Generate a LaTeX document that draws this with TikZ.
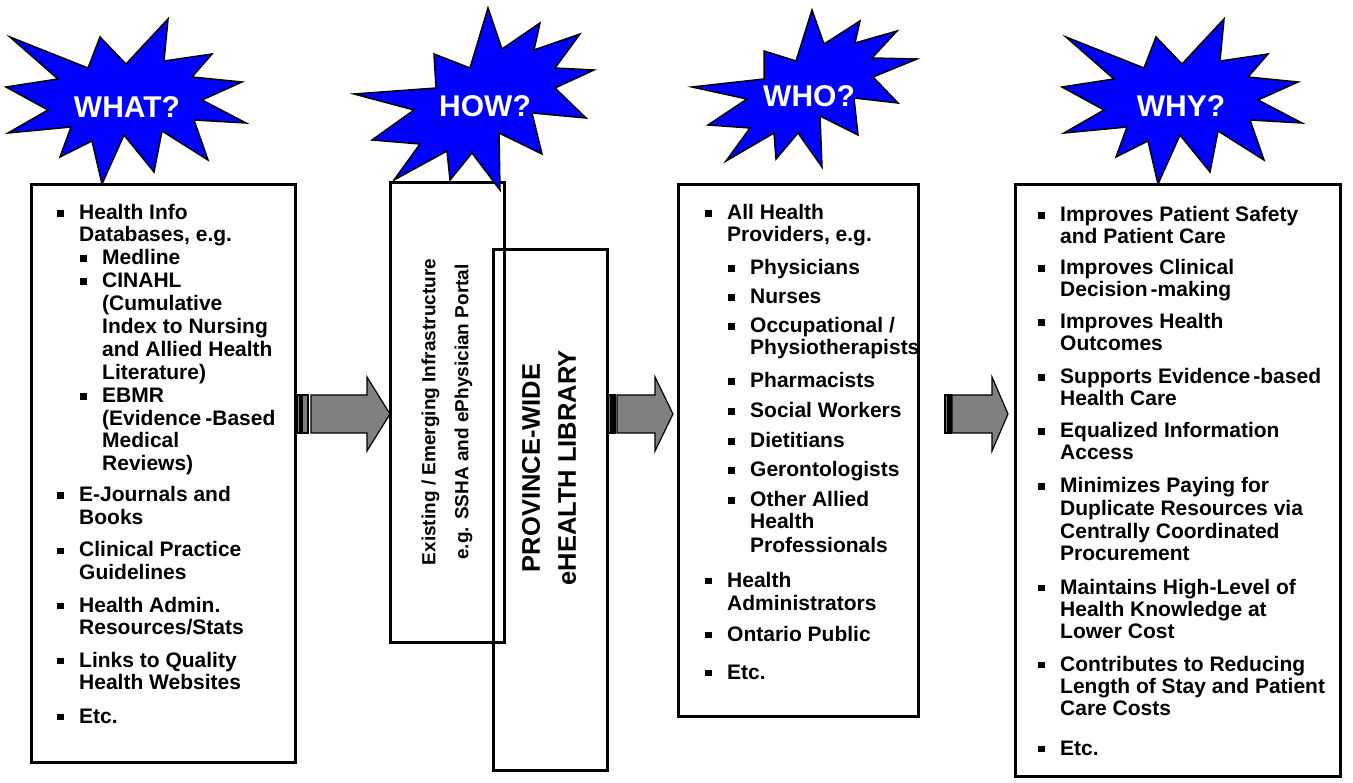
\documentclass[tikz,border=0pt]{standalone}
\usepackage{fontspec}
\setmainfont{Liberation Sans}
\definecolor{arrowgray}{HTML}{808080}
\definecolor{burstblue}{HTML}{0000FF}
\tikzset{
  box/.style={draw=black, line width=3pt, fill=none, inner sep=0pt, outer sep=0pt, anchor=north west},
  burst/.style={draw=black, line width=1.5pt, fill=burstblue, line join=miter},
  bursttext/.style={text=white, font=\fontsize{30}{32}\selectfont\bfseries, inner sep=0pt},
  txt/.style={anchor=base west, inner sep=0pt, font=\fontsize{21}{22.8}\selectfont\bfseries},
  blockarrow/.style={draw=black, line width=1.2pt, fill=arrowgray, line join=miter},
  bulletsq/.style={fill=black},
}
\newcommand\Bu[2]{\fill[bulletsq] ({#1-3},{#2-9.5}) rectangle ++(6.5,6.5);}
\newcommand\Ln[4]{\node[txt] (#1) at (#2,#3) {#4};}
\newcommand\BLn[4]{\Bu{#2-19}{#3}\Ln{#1}{#2}{#3}{#4}}
\def\burstA{(10,37) -- (88,68) -- (100,37) -- (126,64) -- (168,19) -- (164,61) -- (212,54) -- (192,77) -- (242,82) -- (202,100) -- (246,123) -- (194,120) -- (208,160) -- (162,131) -- (154,172) -- (124,135) -- (102,184) -- (92,141) -- (60,157) -- (71,127) -- (8,133) -- (48,110) -- (6,87) -- (58,79) -- cycle}
\begin{document}
\begin{tikzpicture}[x=1pt,y=-1pt]
\useasboundingbox (0,0) rectangle (1353,783);
% boxes
\node[box, minimum width=264pt, minimum height=577pt] (whatbox) at (31,185) {};
\node[box, minimum width=114pt, minimum height=459pt] (infrabox) at (390,183) {};
\node[box, minimum width=114pt, minimum height=520pt] (libbox) at (493,250) {};
\node[box, minimum width=240pt, minimum height=531pt] (whobox) at (678,185) {};
\node[box, minimum width=325pt, minimum height=591pt] (whybox) at (1015,185) {};
% bursts
\draw[burst] \burstA;
\draw[burst] (354,94) -- (436,88) -- (434,54) -- (470,68) -- (488,8) -- (502,49) -- (540,23) -- (534,50) -- (580,34) -- (555,68) -- (594,70) -- (555,88) -- (586,118) -- (532,113) -- (542,154) -- (499,133) -- (500,190) -- (472,153) -- (450,180) -- (447,151) -- (394,180) -- (420,144) -- (372,140) -- (414,110) -- cycle;
\draw[burst] (692,87) -- (764,79) -- (764,51) -- (796,61) -- (812,10) -- (824,44) -- (860,21) -- (855,43) -- (897,31) -- (872,58) -- (917,59) -- (873,77) -- (898,103) -- (854,98) -- (858,135) -- (820,116) -- (822,167) -- (798,133) -- (776,159) -- (774,133) -- (726,161) -- (750,128) -- (708,125) -- (747,99) -- cycle;
\draw[burst, shift={(1056,0)}] \burstA;
\node[bursttext] (what) at (127,107) {WHAT?};
\node[bursttext] (how) at (485,106) {HOW?};
\node[bursttext] (who) at (809,96) {WHO?};
\node[bursttext] (why) at (1181,106) {WHY?};
% block arrows
\draw[blockarrow] (297,395) rectangle (300,433);
\draw[blockarrow] (302,395) rectangle (308,433);
\draw[blockarrow] (311,395) -- (367,395) -- (367,377) -- (390,414) -- (367,451) -- (367,433) -- (311,433) -- cycle;
\draw[blockarrow] (608,395) rectangle (611,433);
\draw[blockarrow] (613,395) rectangle (615,433);
\draw[blockarrow] (617,395) -- (655,395) -- (655,377) -- (673,414) -- (655,451) -- (655,433) -- (617,433) -- cycle;
\draw[blockarrow] (945,395) rectangle (947.5,433);
\draw[blockarrow] (949,395) rectangle (951,433);
\draw[blockarrow] (952,395) -- (992,395) -- (992,377) -- (1008,414) -- (992,451) -- (992,433) -- (952,433) -- cycle;
% vertical texts
\node[rotate=90, align=center, inner sep=0pt, font=\fontsize{19}{33}\selectfont\bfseries] (infra) at (447,412) {Existing / Emerging Infrastructure\\e.g. SSHA and ePhysician Portal};
\node[rotate=90, align=center, inner sep=0pt, font=\fontsize{25.5}{36}\selectfont\bfseries] (lib) at (549,468) {PROVINCE-WIDE\\eHEALTH LIBRARY};
% WHAT list
\BLn{w1}{79}{220}{Health Info}
\Ln{w2}{79}{242}{Databases, e.g.}
\BLn{w3}{102}{265}{Medline}
\BLn{w4}{102}{288}{CINAHL}
\Ln{w5}{102}{311}{(Cumulative}
\Ln{w6}{102}{334}{Index to Nursing}
\Ln{w7}{102}{357}{and Allied Health}
\Ln{w8}{102}{380}{Literature)}
\BLn{w9}{102}{403}{EBMR}
\Ln{w10}{102}{426}{(Evidence\kern4pt-Based}
\Ln{w11}{102}{448}{Medical}
\Ln{w12}{102}{471}{Reviews)}
\BLn{w13}{79}{502}{E-Journals and}
\Ln{w14}{79}{525}{Books}
\BLn{w15}{79}{557}{Clinical Practice}
\Ln{w16}{79}{579}{Guidelines}
\BLn{w17}{79}{612}{Health Admin.}
\Ln{w18}{79}{634}{Resources/Stats}
\BLn{w19}{79}{667}{Links to Quality}
\Ln{w20}{79}{689}{Health Websites}
\BLn{w21}{79}{723}{Etc.}
% WHO list
\BLn{h1}{727}{220}{All Health}
\Ln{h2}{727}{242}{Providers, e.g.}
\BLn{h3}{750}{275}{Physicians}
\BLn{h4}{750}{304}{Nurses}
\BLn{h5}{750}{333}{Occupational /}
\Ln{h6}{750}{355}{Physiotherapists}
\BLn{h7}{750}{388}{Pharmacists}
\BLn{h8}{750}{418}{Social Workers}
\BLn{h9}{750}{448}{Dietitians}
\BLn{h10}{750}{477}{Gerontologists}
\BLn{h11}{750}{507}{Other Allied}
\Ln{h12}{750}{529}{Health}
\Ln{h13}{750}{552}{Professionals}
\BLn{h14}{727}{587}{Health}
\Ln{h15}{727}{610}{Administrators}
\BLn{h16}{727}{641}{Ontario Public}
\BLn{h17}{727}{679}{Etc.}
% WHY list
\BLn{y1}{1060}{222}{Improves Patient Safety}
\Ln{y2}{1060}{244}{and Patient Care}
\BLn{y3}{1060}{275}{Improves Clinical}
\Ln{y4}{1060}{297}{Decision\kern3pt-making}
\BLn{y5}{1060}{329}{Improves Health}
\Ln{y6}{1060}{351}{Outcomes}
\BLn{y7}{1060}{384}{Supports Evidence\kern3pt-based}
\Ln{y8}{1060}{406}{Health Care}
\BLn{y9}{1060}{438}{Equalized Information}
\Ln{y10}{1060}{460}{Access}
\BLn{y11}{1060}{493}{Minimizes Paying for}
\Ln{y12}{1060}{515}{Duplicate Resources via}
\Ln{y13}{1060}{538}{Centrally Coordinated}
\Ln{y14}{1060}{560}{Procurement}
\BLn{y15}{1060}{594}{Maintains High-Level of}
\Ln{y16}{1060}{616}{Health Knowledge at}
\Ln{y17}{1060}{638}{Lower Cost}
\BLn{y18}{1060}{671}{Contributes to Reducing}
\Ln{y19}{1060}{693}{Length of Stay and Patient}
\Ln{y20}{1060}{715}{Care Costs}
\BLn{y21}{1060}{755}{Etc.}
\end{tikzpicture}
\end{document}
